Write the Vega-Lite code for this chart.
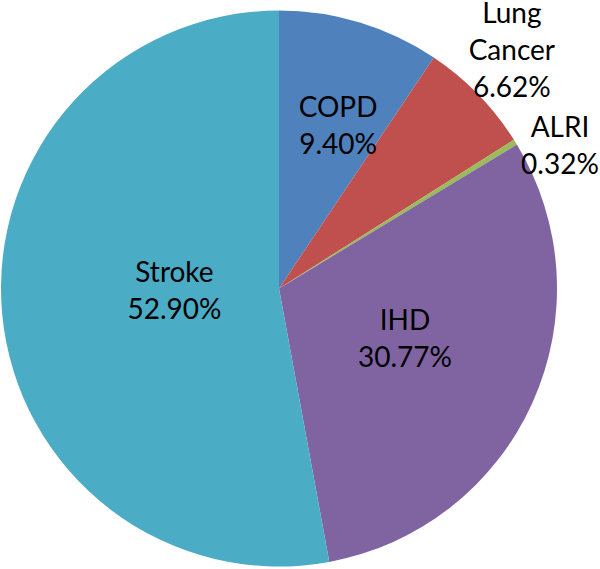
{
  "$schema": "https://vega.github.io/schema/vega-lite/v6.json",
  "width": 558,
  "height": 577,
  "padding": {"left": 0, "top": 0, "right": 42, "bottom": 0},
  "autosize": "none",
  "background": "white",
  "config": {"view": {"stroke": null}},
  "data": {"values": [
    {"category": "COPD", "label": "COPD\n9.40%", "value": 9.40, "rank": 1},
    {"category": "Lung Cancer", "label": "Lung\nCancer\n6.62%", "value": 6.62, "rank": 2},
    {"category": "ALRI", "label": "ALRI\n0.32%", "value": 0.32, "rank": 3},
    {"category": "IHD", "label": "IHD\n30.77%", "value": 30.77, "rank": 4},
    {"category": "Stroke", "label": "Stroke\n52.90%", "value": 52.90, "rank": 5}
  ]},
  "transform": [
    {"stack": "value", "groupby": [], "sort": [{"field": "rank", "order": "ascending"}], "as": ["v0", "v1"]},
    {"calculate": "(datum.v0 + datum.v1) / 2", "as": "mid"}
  ],
  "encoding": {
    "theta": {"field": "mid", "type": "quantitative", "scale": {"domain": [0, 100.01]}}
  },
  "layer": [
    {
      "mark": {"type": "arc", "outerRadius": 278},
      "encoding": {
        "theta": {"field": "v0", "type": "quantitative", "scale": {"domain": [0, 100.01]}},
        "theta2": {"field": "v1"},
        "color": {
          "field": "category", "type": "nominal", "legend": null,
          "scale": {"domain": ["COPD", "Lung Cancer", "ALRI", "IHD", "Stroke"],
                    "range": ["#4F81BD", "#C0504D", "#9BBB59", "#8064A2", "#4BACC6"]}
        }
      }
    },
    {
      "transform": [{"filter": "datum.category === 'COPD'"}],
      "mark": {"type": "text", "radius": 172, "dx": 9, "dy": -15, "font": "Lato", "fontSize": 28, "lineHeight": 37, "align": "center", "baseline": "middle", "lineBreak": "\n", "color": "black"},
      "encoding": {"text": {"field": "label"}}
    },
    {
      "transform": [{"filter": "datum.category === 'Lung Cancer'"}],
      "mark": {"type": "text", "radius": 332, "dx": -5, "dy": -42, "font": "Lato", "fontSize": 28, "lineHeight": 37, "align": "center", "baseline": "middle", "lineBreak": "\n", "color": "black"},
      "encoding": {"text": {"field": "label"}}
    },
    {
      "transform": [{"filter": "datum.category === 'ALRI'"}],
      "mark": {"type": "text", "radius": 314, "dx": 14, "dy": 6, "font": "Lato", "fontSize": 28, "lineHeight": 37, "align": "center", "baseline": "middle", "lineBreak": "\n", "color": "black"},
      "encoding": {"text": {"field": "label"}}
    },
    {
      "transform": [{"filter": "datum.category === 'IHD'"}],
      "mark": {"type": "text", "radius": 137, "dx": 1, "dy": -23, "font": "Lato", "fontSize": 28, "lineHeight": 37, "align": "center", "baseline": "middle", "lineBreak": "\n", "color": "black"},
      "encoding": {"text": {"field": "label"}}
    },
    {
      "transform": [{"filter": "datum.category === 'Stroke'"}],
      "mark": {"type": "text", "radius": 105, "dx": 0, "dy": -24, "font": "Lato", "fontSize": 28, "lineHeight": 37, "align": "center", "baseline": "middle", "lineBreak": "\n", "color": "black"},
      "encoding": {"text": {"field": "label"}}
    }
  ]
}
